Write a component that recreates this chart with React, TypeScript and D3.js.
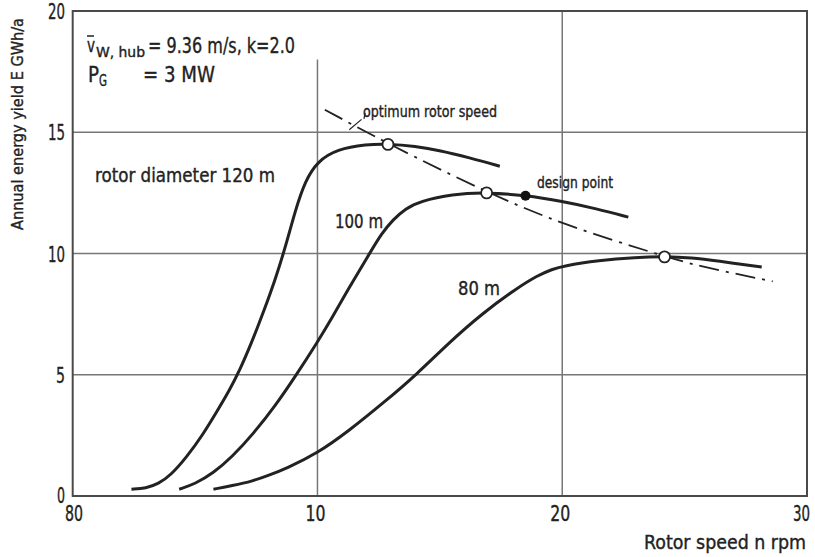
import React, { useEffect, useRef } from 'react';
import * as d3 from 'd3';

// rotor speed n [rpm] vs annual energy yield E [GWh/a]
const curve120 = [[2.4, 0.28], [3.0, 0.32], [3.5, 0.5], [4.0, 0.85], [4.65, 1.6], [5.3, 2.5], [5.9, 3.5], [6.4, 4.35], [6.83, 5.2], [7.3, 6.3], [7.8, 7.6], [8.3, 9.0], [8.7, 10.3], [9.1, 11.8], [9.5, 13.0], [10.0, 13.8], [10.8, 14.3], [12.0, 14.5], [12.88, 14.52], [14.0, 14.42], [15.0, 14.25], [16.2, 13.95], [17.45, 13.6]];
const curve100 = [[4.35, 0.28], [5.0, 0.5], [5.74, 0.94], [6.5, 1.6], [7.37, 2.55], [8.3, 3.75], [9.14, 5.0], [10.0, 6.35], [10.6, 7.35], [11.18, 8.4], [12.13, 10.0], [12.6, 10.8], [13.09, 11.4], [13.6, 11.85], [14.18, 12.15], [15.5, 12.45], [16.91, 12.52], [18.5, 12.4], [20.0, 12.15], [21.4, 11.85], [22.7, 11.5]];
const curve80 = [[5.75, 0.28], [6.5, 0.42], [7.37, 0.62], [8.0, 0.85], [8.73, 1.14], [10.0, 1.76], [11.3, 2.7], [12.68, 3.83], [14.04, 5.0], [15.4, 6.35], [16.76, 7.55], [18.12, 8.55], [19.0, 9.1], [19.6, 9.35], [20.0, 9.48], [21.5, 9.72], [23.0, 9.84], [24.18, 9.88], [25.3, 9.82], [26.3, 9.7], [28.15, 9.44]];
const optimumLine = [[10.3, 15.93], [12.88, 14.52], [16.91, 12.52], [20.0, 11.2], [24.18, 9.88], [25.6, 9.47], [28.6, 8.85]];
const optimumPoints = [[12.88, 14.5], [16.91, 12.5], [24.18, 9.86]];
const designPoint = [18.5, 12.38];

const xTicks = [0, 10, 20, 30];
const xTickLabels = ['80', '10', '20', '30'];
const yTicks = [0, 5, 10, 15, 20];
const xGrid = [10, 20];
const yGrid = [5, 10, 15];

const FONT = "'DejaVu Sans Condensed', 'Liberation Sans Narrow', sans-serif";

export default function App() {
    const ref = useRef<SVGSVGElement>(null);

    useEffect(() => {
        const svg = d3.select(ref.current);
        svg.selectAll('*').remove();

        const x = d3.scaleLinear().domain([0, 30]).range([72.7, 807]);
        const y = d3.scaleLinear().domain([0, 20]).range([496, 11]);

        // grid
        const grid = svg.append('g').attr('stroke', '#777').attr('stroke-width', 1.5);
        grid.selectAll('line.h')
            .data(yGrid)
            .enter().append('line')
            .attr('x1', x(0)).attr('x2', x(30))
            .attr('y1', d => y(d)).attr('y2', d => y(d));
        grid.selectAll('line.v')
            .data(xGrid)
            .enter().append('line')
            .attr('x1', d => x(d)).attr('x2', d => x(d))
            // the 10 rpm line stops below the parameter box
            .attr('y1', d => d === 10 ? y(18.0) : y(20))
            .attr('y2', y(0));

        // frame
        svg.append('rect')
            .attr('x', x(0)).attr('y', y(20))
            .attr('width', x(30) - x(0)).attr('height', y(0) - y(20))
            .attr('fill', 'none').attr('stroke', '#4a4a4a').attr('stroke-width', 2);

        const line = d3.line<number[]>()
            .x(d => x(d[0]))
            .y(d => y(d[1]))
            .curve(d3.curveBasis);

        svg.append('path')
            .attr('d', line(optimumLine))
            .attr('fill', 'none').attr('stroke', '#222').attr('stroke-width', 1.8)
            .attr('stroke-dasharray', '20,7,3,7');

        [curve120, curve100, curve80].forEach(c => {
            svg.append('path')
                .attr('d', line(c))
                .attr('fill', 'none').attr('stroke', '#222').attr('stroke-width', 3);
        });

        svg.selectAll('circle.opt')
            .data(optimumPoints)
            .enter().append('circle')
            .attr('cx', d => x(d[0])).attr('cy', d => y(d[1]))
            .attr('r', 5.5)
            .attr('fill', '#fff').attr('stroke', '#222').attr('stroke-width', 1.8);

        svg.append('circle')
            .attr('cx', x(designPoint[0])).attr('cy', y(designPoint[1]))
            .attr('r', 5)
            .attr('fill', '#111');

        // leader for optimum label
        svg.append('line')
            .attr('x1', x(11.3)).attr('y1', y(15.1))
            .attr('x2', x(11.8)).attr('y2', y(15.53))
            .attr('stroke', '#222').attr('stroke-width', 1.2);
        svg.append('line')
            .attr('x1', x(11.9)).attr('y1', y(15.55))
            .attr('x2', x(11.95)).attr('y2', y(15.8))
            .attr('stroke', '#222').attr('stroke-width', 1.2);

        const text = (tx: number, ty: number, s: string, size: number, len?: number, anchor = 'start') => {
            const t = svg.append('text')
                .attr('x', tx).attr('y', ty)
                .attr('font-family', FONT)
                .attr('font-size', size)
                .attr('text-anchor', anchor)
                .attr('fill', '#222')
                .attr('stroke', '#222')
                .attr('stroke-width', 0.35)
                .text(s);
            if (len) t.attr('textLength', len).attr('lengthAdjust', 'spacingAndGlyphs');
            return t;
        };

        // tick labels
        yTicks.forEach(v => {
            const s = String(v);
            if (v === 0) text(65, y(0) + 7, s, 21, 8, 'end');
            else text(65, y(v) + 8, s, 22, s.length === 1 ? 9 : 17, 'end');
        });
        xTicks.forEach((v, i) => {
            if (i === 0) text(65, 521, xTickLabels[i], 21, 18);
            else if (i === 3) text(793, 521, xTickLabels[i], 21, 17);
            else text(x(v) - 2, 521, xTickLabels[i], 21, 20, 'middle');
        });

        // axis titles
        text(806, 549, 'Rotor speed n rpm', 19, 162, 'end');
        svg.append('text')
            .attr('transform', 'translate(23,230) rotate(-90)')
            .attr('font-family', FONT)
            .attr('font-size', 16)
            .attr('fill', '#222')
            .attr('stroke', '#222')
            .attr('stroke-width', 0.35)
            .attr('textLength', 212)
            .attr('lengthAdjust', 'spacingAndGlyphs')
            .text('Annual energy yield E GWh/a');

        // annotations
        text(363, 117, 'optimum rotor speed', 15, 134);
        text(537, 188, 'design point', 15, 76);
        text(95, 182, 'rotor diameter 120 m', 19, 180);
        text(335, 228, '100 m', 19, 48);
        text(458, 295, '80 m', 19, 42);

        // parameter box
        text(87, 52, 'v', 19, 8);
        svg.append('line')
            .attr('x1', 87).attr('x2', 94).attr('y1', 36).attr('y2', 36)
            .attr('stroke', '#222').attr('stroke-width', 1.5);
        text(96, 57, 'W, hub', 14, 49);
        text(148, 53, '= 9.36 m/s, k=2.0', 22, 147);
        text(88, 82, 'P', 22, 11);
        text(99, 86, 'G', 15, 8);
        text(143, 82, '= 3 MW', 22, 72);
    }, []);

    return (
        <svg ref={ref} width={815} height={557}
             style={{ position: 'absolute', left: 0, top: 0, background: '#fff' }} />
    );
}
